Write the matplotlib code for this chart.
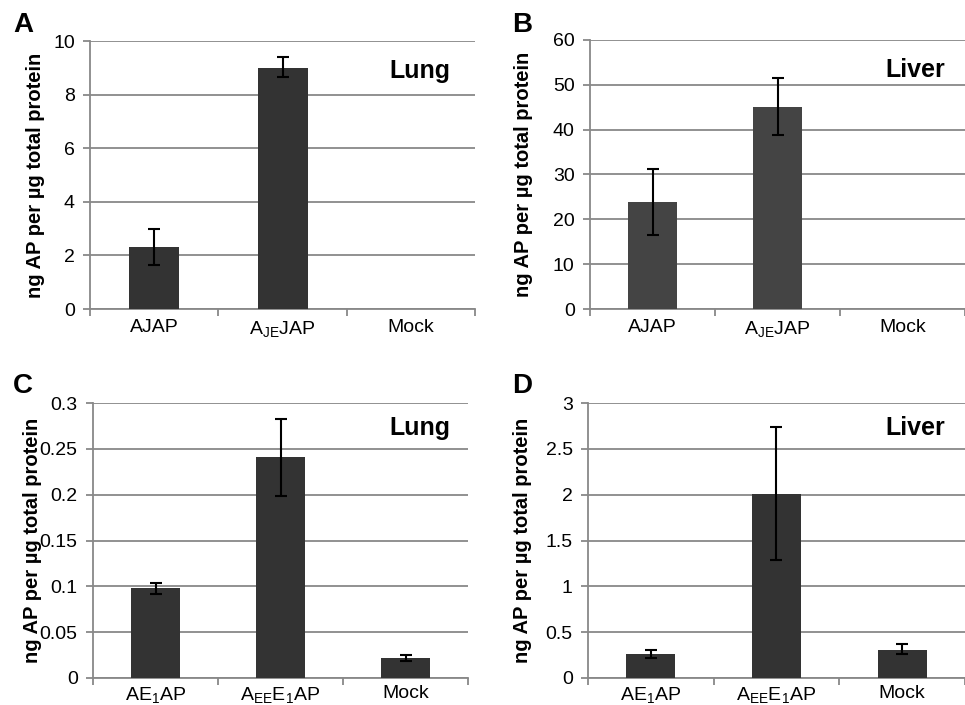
import matplotlib.pyplot as plt
from matplotlib.ticker import FixedLocator

plt.rcParams['font.family'] = ['Liberation Sans', 'DejaVu Sans']
plt.rcParams['mathtext.fontset'] = 'custom'
plt.rcParams['mathtext.rm'] = 'Liberation Sans'
plt.rcParams['mathtext.it'] = 'Liberation Sans:italic'
plt.rcParams['mathtext.bf'] = 'Liberation Sans:bold'

# Data
labels_ab = ['AJAP', r'A$_{\mathrm{JE}}$JAP', 'Mock']
labels_cd = [r'AE$_{\mathrm{1}}$AP', r'A$_{\mathrm{EE}}$E$_{\mathrm{1}}$AP', 'Mock']

lung_a = [2.3, 9.0, 0.0]
lung_a_lo = [1.65, 8.65, 0.0]
lung_a_hi = [3.0, 9.4, 0.0]

liver_b = [23.8, 45.1, 0.0]
liver_b_lo = [16.5, 38.8, 0.0]
liver_b_hi = [31.3, 51.5, 0.0]

lung_c = [0.098, 0.241, 0.022]
lung_c_lo = [0.092, 0.199, 0.019]
lung_c_hi = [0.104, 0.283, 0.025]

liver_d = [0.26, 2.01, 0.31]
liver_d_lo = [0.22, 1.29, 0.26]
liver_d_hi = [0.31, 2.74, 0.37]

ticks_a = [0, 2, 4, 6, 8, 10]
ticks_b = [0, 10, 20, 30, 40, 50, 60]
ticks_c = [0, 0.05, 0.1, 0.15, 0.2, 0.25, 0.3]
ticks_d = [0, 0.5, 1, 1.5, 2, 2.5, 3]
ticklabels_a = ['0', '2', '4', '6', '8', '10']
ticklabels_b = ['0', '10', '20', '30', '40', '50', '60']
ticklabels_c = ['0', '0.05', '0.1', '0.15', '0.2', '0.25', '0.3']
ticklabels_d = ['0', '0.5', '1', '1.5', '2', '2.5', '3']

panels = [
    ('Lung', labels_ab, lung_a, lung_a_lo, lung_a_hi, ticks_a, ticklabels_a,
     [0.0933, 0.5617, 0.399, 0.380], (0.935, 0.89), -0.117, '#333333', 7),
    ('Liver', labels_ab, liver_b, liver_b_lo, liver_b_hi, ticks_b, ticklabels_b,
     [0.6114, 0.5617, 0.3886, 0.3816], (0.947, 0.89), -0.152, '#444444', 7),
    ('Lung', labels_cd, lung_c, lung_c_lo, lung_c_hi, ticks_c, ticklabels_c,
     [0.0964, 0.0383, 0.3886, 0.390], (0.952, 0.909), -0.136, '#333333', 5),
    ('Liver', labels_cd, liver_d, liver_d_lo, liver_d_hi, ticks_d, ticklabels_d,
     [0.6093, 0.0383, 0.3907, 0.390], (0.947, 0.909), -0.149, '#333333', 5),
]

fig = plt.figure(figsize=(9.65, 7.05), dpi=100)

for tissue, labels, vals, lo, hi, yticks, yticklabels, rect, tpos, labx, color, xpad in panels:
    ax = fig.add_axes(rect)
    x = list(range(len(vals)))
    ax.bar(x, vals, width=0.39, color=color, zorder=3)

    # error bars only where there is a spread
    show = [i for i in x if hi[i] > lo[i]]
    ax.errorbar(show, [vals[i] for i in show],
                yerr=[[vals[i] - lo[i] for i in show], [hi[i] - vals[i] for i in show]],
                fmt='none', ecolor='black', elinewidth=1.5, capsize=4, capthick=1.5, zorder=4)

    ax.set_xlim(-0.5, 2.5)
    ax.set_ylim(yticks[0], yticks[-1])
    ax.set_yticks(yticks)
    ax.set_yticklabels(yticklabels)
    ax.set_xticks(x)
    ax.set_xticklabels(labels)
    ax.xaxis.set_minor_locator(FixedLocator([-0.5, 0.5, 1.5, 2.5]))
    ax.tick_params(axis='x', which='major', length=0, labelsize=14, pad=xpad)
    ax.tick_params(axis='x', which='minor', length=5, color='#888888', width=1.3)
    ax.tick_params(axis='y', length=5, color='#888888', width=1.3, labelsize=14, pad=6)

    ax.grid(axis='y', color='#888888', linewidth=1.3, zorder=0)
    ax.set_axisbelow(True)
    for s in ['top', 'right']:
        ax.spines[s].set_visible(False)
    for s in ['left', 'bottom']:
        ax.spines[s].set_color('#888888')
        ax.spines[s].set_linewidth(1.3)

    ax.set_ylabel('ng AP per µg total protein', fontsize=14.5, fontweight='bold')
    ax.yaxis.set_label_coords(labx, 0.5)
    ax.text(tpos[0], tpos[1], tissue, transform=ax.transAxes, ha='right', va='center',
            fontsize=18, fontweight='bold')

# Panel letters
fig.text(0.0135, 0.9546, 'A', fontsize=20, fontweight='bold', va='baseline')
fig.text(0.5306, 0.9546, 'B', fontsize=20, fontweight='bold', va='baseline')
fig.text(0.0135, 0.4426, 'C', fontsize=20, fontweight='bold', va='baseline')
fig.text(0.5306, 0.4426, 'D', fontsize=20, fontweight='bold', va='baseline')

fig.savefig('out.png', dpi=100)
